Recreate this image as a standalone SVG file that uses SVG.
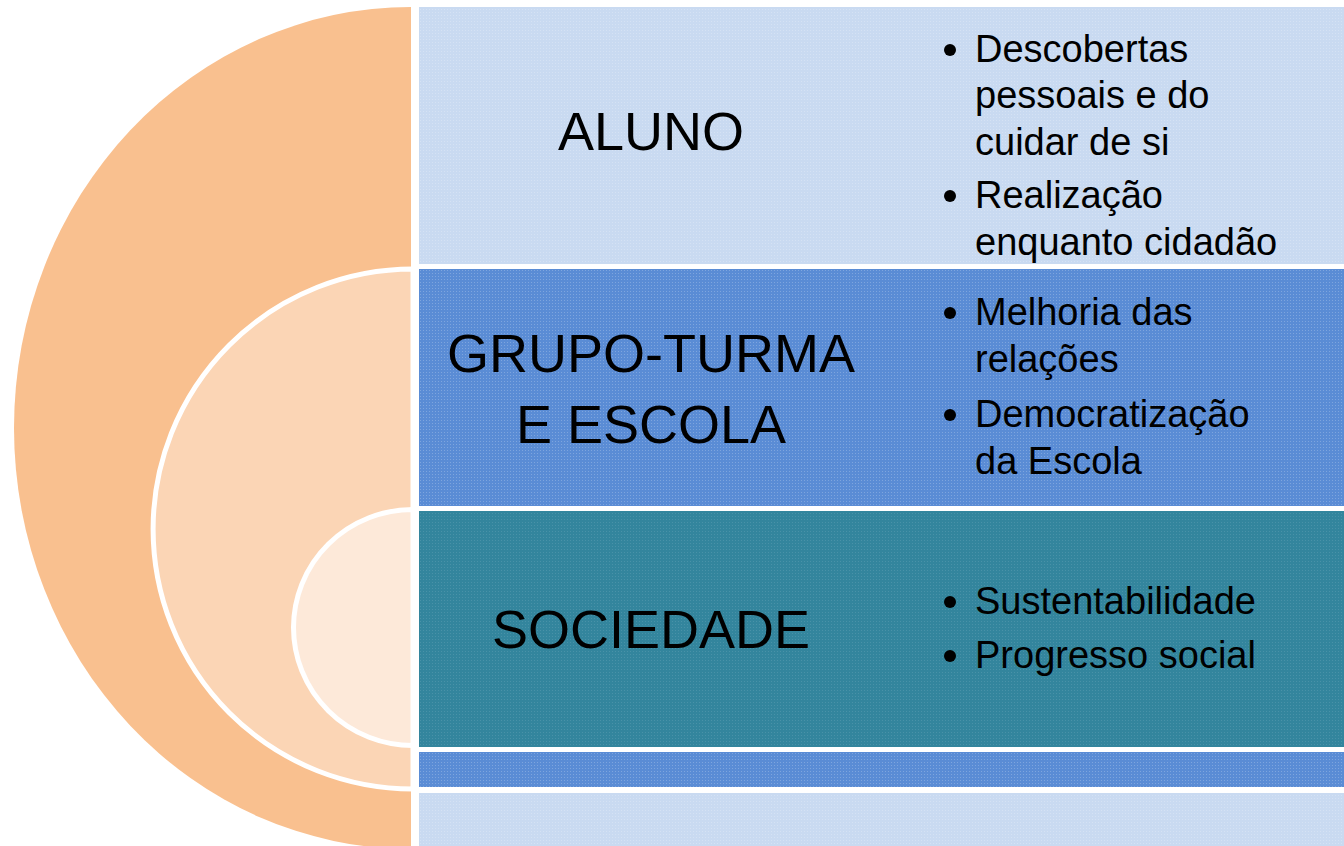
<svg xmlns="http://www.w3.org/2000/svg" width="1344" height="846" viewBox="0 0 1344 846">
  <defs>
    <pattern id="dots" width="3" height="3" patternUnits="userSpaceOnUse">
      <rect x="0" y="0" width="1" height="1" fill="#ffffff" fill-opacity="0.22"/>
    </pattern>
  </defs>
  <style>
    .title { font-family: "Liberation Sans", Arial, sans-serif; font-size: 54px; fill: #000; text-anchor: middle; }
    .item { font-family: "Liberation Sans", Arial, sans-serif; font-size: 38px; fill: #000; }
    .ring { stroke: #ffffff; stroke-width: 5; }
    .bullet { fill: #000; }
  </style>
  <rect x="0" y="0" width="1344" height="846" fill="#ffffff"/>

  <g id="rings">
    <path d="M411,7 A397,421 0 0 0 411,849 Z" fill="#F9C08F"/>
    <path class="ring" d="M413,269 A260,260 0 0 0 413,789 L413,269 Z" fill="#FBD5B5"/>
    <path class="ring" d="M413,509.5 A119.5,118 0 0 0 413,745.5 L413,509.5 Z" fill="#FDE9D9"/>
  </g>

  <g id="node-aluno">
    <rect x="419" y="7" width="925" height="257" fill="#C9DAF1"/>
    <rect x="419" y="7" width="925" height="257" fill="url(#dots)"/>
    <text class="title" x="651" y="150">ALUNO</text>
    <circle class="bullet" cx="950" cy="50" r="6"/>
    <text class="item" x="975" y="62">Descobertas</text>
    <text class="item" x="975" y="108">pessoais e do</text>
    <text class="item" x="975" y="155">cuidar de si</text>
    <circle class="bullet" cx="950" cy="196" r="6"/>
    <text class="item" x="975" y="208">Realização</text>
    <text class="item" x="975" y="255">enquanto cidadão</text>
  </g>

  <g id="node-grupo">
    <rect x="419" y="269" width="925" height="237" fill="#5A8CD5"/>
    <rect x="419" y="269" width="925" height="237" fill="url(#dots)"/>
    <text class="title" x="651" y="372">GRUPO-TURMA</text>
    <text class="title" x="651" y="443">E ESCOLA</text>
    <circle class="bullet" cx="950" cy="313" r="6"/>
    <text class="item" x="975" y="325">Melhoria das</text>
    <text class="item" x="975" y="372">relações</text>
    <circle class="bullet" cx="950" cy="415" r="6"/>
    <text class="item" x="975" y="427">Democratização</text>
    <text class="item" x="975" y="474">da Escola</text>
  </g>

  <g id="node-sociedade">
    <rect x="419" y="511" width="925" height="236" fill="#33859D"/>
    <rect x="419" y="511" width="925" height="236" fill="url(#dots)" opacity="0.5"/>
    <text class="title" x="651" y="648">SOCIEDADE</text>
    <circle class="bullet" cx="950" cy="602" r="6"/>
    <text class="item" x="975" y="614">Sustentabilidade</text>
    <circle class="bullet" cx="950" cy="656" r="6"/>
    <text class="item" x="975" y="668">Progresso social</text>
  </g>

  <g id="band-blue">
    <rect x="419" y="752" width="925" height="35" fill="#5A8CD5"/>
    <rect x="419" y="752" width="925" height="35" fill="url(#dots)"/>
  </g>
  <g id="band-light">
    <rect x="419" y="793" width="925" height="53" fill="#C9DAF1"/>
    <rect x="419" y="793" width="925" height="53" fill="url(#dots)"/>
  </g>
</svg>
